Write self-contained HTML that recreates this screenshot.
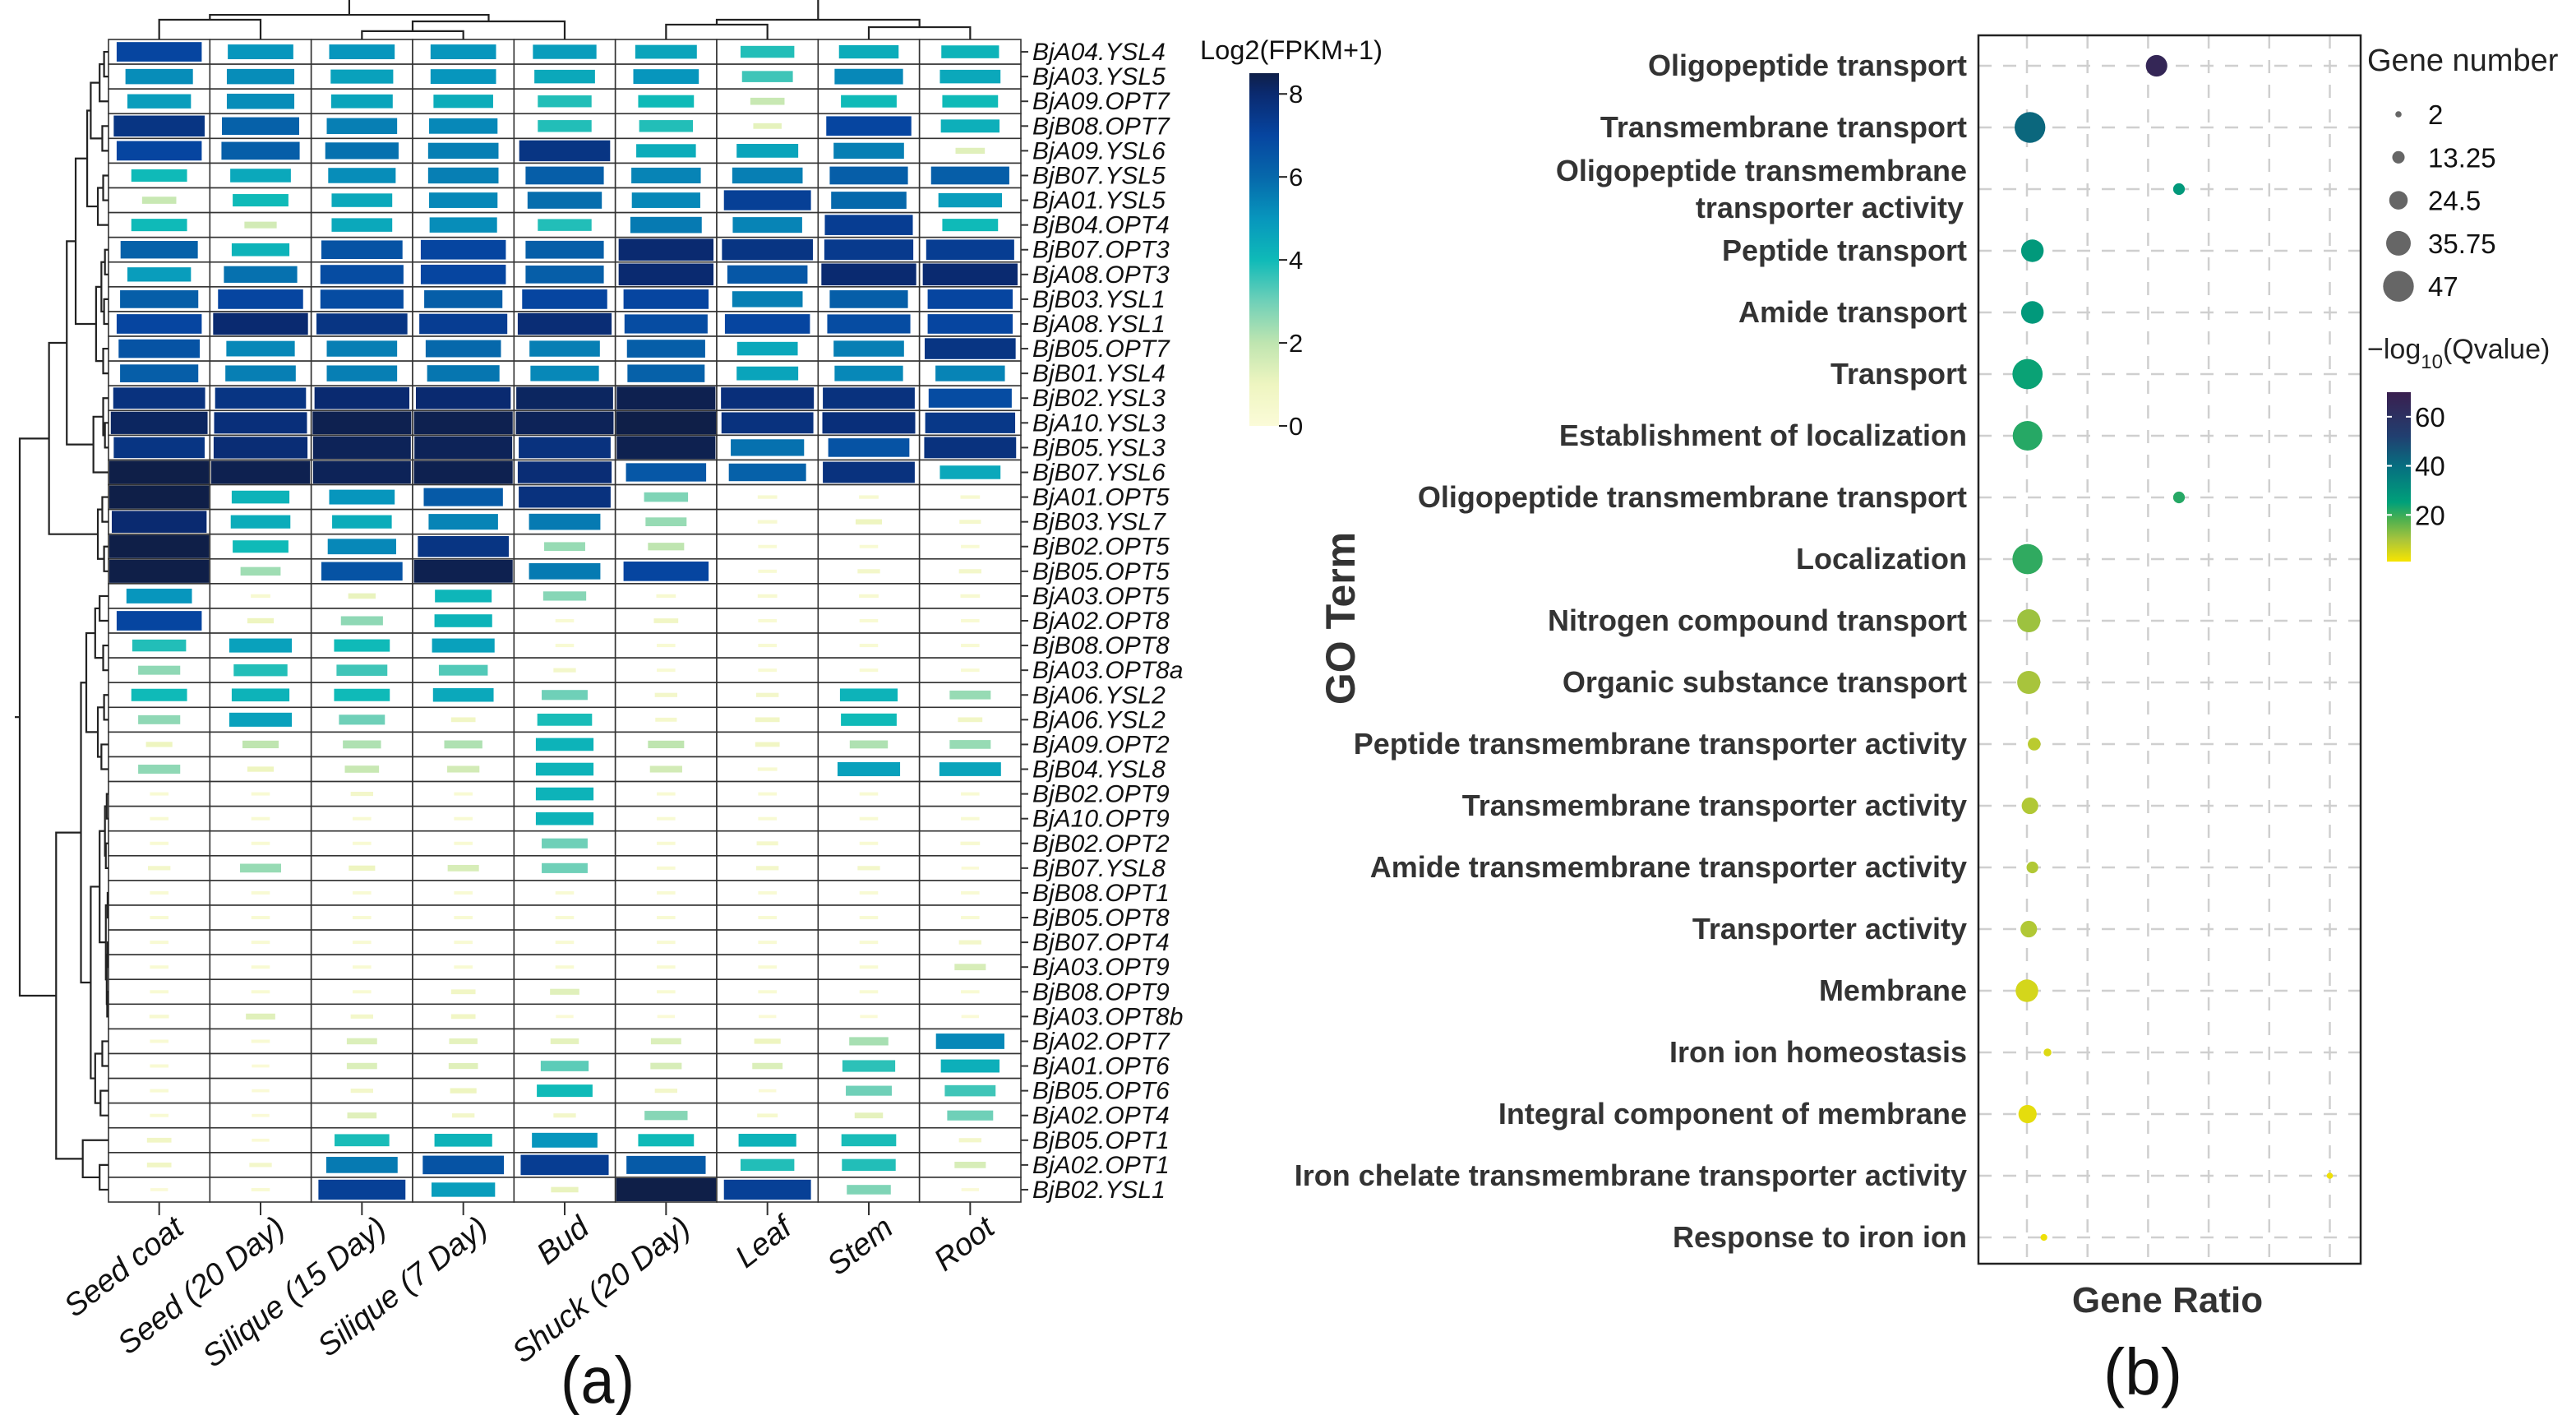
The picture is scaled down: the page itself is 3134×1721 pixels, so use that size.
<!DOCTYPE html>
<html><head><meta charset="utf-8"><title>Heatmap and GO enrichment</title>
<style>
html,body{margin:0;padding:0;background:#fff;}
svg{display:block;font-family:"Liberation Sans",Arial,sans-serif;}
</style></head>
<body>
<svg id="fig" width="3134" height="1721" viewBox="0 0 3134 1721" xmlns="http://www.w3.org/2000/svg">
<defs>
<linearGradient id="hmGrad" x1="0" y1="1" x2="0" y2="0">
<stop offset="0" stop-color="#fbfbd8"/><stop offset="0.118" stop-color="#eef5c0"/><stop offset="0.235" stop-color="#bfe5b0"/><stop offset="0.353" stop-color="#6fd0b8"/><stop offset="0.47" stop-color="#0fbab8"/><stop offset="0.588" stop-color="#0796bd"/><stop offset="0.706" stop-color="#0668ab"/><stop offset="0.824" stop-color="#0645a0"/><stop offset="0.941" stop-color="#0a2a70"/><stop offset="1" stop-color="#0f1f48"/>
</linearGradient>
<linearGradient id="qGrad" x1="0" y1="1" x2="0" y2="0">
<stop offset="0" stop-color="#f7e400"/><stop offset="0.13" stop-color="#a8c43c"/><stop offset="0.25" stop-color="#4cb050"/><stop offset="0.35" stop-color="#00a07a"/><stop offset="0.56" stop-color="#066f80"/><stop offset="0.74" stop-color="#213f70"/><stop offset="1" stop-color="#3a1f4f"/>
</linearGradient>
</defs>
<g id="heat"></g>
<g id="bubble"></g>
</svg>
<script>
const genes = ["BjA04.YSL4","BjA03.YSL5","BjA09.OPT7","BjB08.OPT7","BjA09.YSL6","BjB07.YSL5","BjA01.YSL5","BjB04.OPT4","BjB07.OPT3","BjA08.OPT3","BjB03.YSL1","BjA08.YSL1","BjB05.OPT7","BjB01.YSL4","BjB02.YSL3","BjA10.YSL3","BjB05.YSL3","BjB07.YSL6","BjA01.OPT5","BjB03.YSL7","BjB02.OPT5","BjB05.OPT5","BjA03.OPT5","BjA02.OPT8","BjB08.OPT8","BjA03.OPT8a","BjA06.YSL2","BjA06.YSL2","BjA09.OPT2","BjB04.YSL8","BjB02.OPT9","BjA10.OPT9","BjB02.OPT2","BjB07.YSL8","BjB08.OPT1","BjB05.OPT8","BjB07.OPT4","BjA03.OPT9","BjB08.OPT9","BjA03.OPT8b","BjA02.OPT7","BjA01.OPT6","BjB05.OPT6","BjA02.OPT4","BjB05.OPT1","BjA02.OPT1","BjB02.YSL1"];
const tissues = ["Seed coat","Seed (20 Day)","Silique (15 Day)","Silique (7 Day)","Bud","Shuck (20 Day)","Leaf","Stem","Root"];
const expr = [
[7,5,5,5,4.8,4.6,3.8,4.4,4.2],[5.2,5.2,4.7,5,4.5,5,3.5,5.3,4.5],[4.8,5.2,4.6,4.4,3.8,4,1.8,4,4],[7.6,6.2,5.5,5.3,3.8,3.8,1.2,7,4.3],
[7,6.3,5.8,5.5,7.6,4.4,4.6,5.5,1.3],[4,4.5,5.2,5.5,6.3,5.4,5.5,6.3,6.3],[1.8,4,4.5,5.3,5.9,5.3,7.2,6,4.8],[4,1.6,4.5,5.2,3.8,5.6,5.4,7.3,4],
[6.2,4.2,6.6,7,6.3,8,7.6,7.4,7.3],[4.8,5.8,6.8,7,6.3,8,6.5,8,8],[6.3,7,6.8,6.3,7,7,5.5,6.3,7],[7,8,7.6,7.3,7.9,6.8,7,6.8,7],
[6.6,5.3,5.5,6,5.5,6.3,4.5,5.5,7.6],[6.3,5.5,5.5,5.7,5.3,6.2,4.6,5.3,5.4],[7.7,7.6,8,8,8.2,8.4,7.8,7.7,6.8],[8.2,7.8,8.4,8.4,8.3,8.5,7.7,7.8,7.5],
[7.6,7.9,8.3,8.3,7.7,8.4,5.8,6.6,7.7],[8.5,8.4,8.3,8.4,7.9,6.5,6.2,7.7,4.5],[8.5,4.2,5,6.4,7.7,2.8,0.3,0.3,0.3],[8,4.4,4.4,5.4,5.6,2.5,0.3,1,0.5],
[8.5,4,5.3,7.6,2.5,2,0.2,0.2,0.2],[8.5,2.4,6.6,8.4,5.6,7,0.2,0.6,0.6],[5,0.3,1.1,4.1,2.7,0.3,0.3,0.3,0.3],[7,1,2.6,4.2,0.2,0.8,0.2,0.2,0.2],
[3.8,4.7,4,4.7,0.2,0.2,0.2,0.2,0.2],[2.6,3.8,3.5,3.3,0.6,0.2,0.2,0.2,0.2],[4,4.2,4,4.5,3,0.6,0.6,4.2,2.5],[2.6,4.7,3,0.8,3.9,0.5,0.8,4,0.8],
[1,2,2.2,2.2,4.2,2,0.8,2.2,2.5],[2.6,1,1.8,1.6,4.2,1.6,0.3,4.7,4.6],[0.2,0.2,0.6,0.2,4.2,0.2,0.2,0.2,0.2],[0.2,0.2,0.2,0.2,4.2,0.2,0.2,0.2,0.2],
[0.2,0.2,0.2,0.2,3,0.2,0.5,0.2,0.3],[0.6,2.5,1,1.5,3,0.2,0.6,0.6,0.1],[0.2,0.2,0.2,0.2,0.2,0.2,0.2,0.2,0.2],[0.2,0.2,0.2,0.2,0.2,0.2,0.2,0.2,0.2],
[0.2,0.2,0.2,0.2,0.2,0.2,0.2,0.2,0.6],[0.2,0.2,0.2,0.2,0.2,0.2,0.2,0.2,1.5],[0.2,0.2,0.2,0.8,1.3,0.2,0.2,0.2,0.2],[0.3,1.3,0.6,0.8,0.1,0.1,0.1,0.1,0.1],
[0.2,0.2,1.4,1.2,1.2,1.4,1,2.3,5.3],[0.2,0.1,1.4,1.3,3.2,1.5,1.4,3.7,4.3],[0.2,0.1,0.6,1,4,0.6,0.1,3,3.5],[0.2,0.1,1.3,0.6,0.6,2.7,0.4,1.2,3],
[0.8,0.1,3.9,4.2,5,4,4.2,3.9,0.6],[0.8,0.6,5.6,6.6,7.3,6.4,3.8,3.8,1.5],[0.1,0.2,7.2,4.8,1.1,8.6,7.2,2.8,0.1]];
const rowTree = [1.0,
 [0.67,
   [0.47,
     [0.37,
       [0.24,[0.2,[0.1,[0.05,0,1],2],[0.07,3,4]],[0.12,[0.06,5,6],7]],
       [0.14,[0.08,[0.04,8,9],[0.05,10,11]],[0.06,12,13]]],
     [0.17,[0.06,14,[0.04,15,16]],17]],
   [0.12,[0.07,18,19],[0.05,20,21]]],
 [0.59,
   [0.31,
     [0.25,[0.15,[0.1,22,23],[0.06,24,25]],[0.12,[0.05,26,27],[0.08,28,29]]],
     [0.2,[0.1,[0.04,[0.02,30,31],[0.03,32,33]],[0.03,[0.01,34,35],[0.02,[0.01,36,37],[0.015,38,39]]]],[0.15,[0.07,40,41],[0.09,42,43]]]],
   [0.29,44,[0.1,45,46]]]];
const colTree = [1.15,[0.68,[0.545,0,1],[0.5,[0.23,2,3],4]],[0.545,[0.41,5,6],[0.34,7,8]]];
const hmTicks = [0,2,4,6,8];

const goTerms = ["Oligopeptide transport","Transmembrane transport","Oligopeptide transmembrane|transporter activity","Peptide transport","Amide transport","Transport","Establishment of localization","Oligopeptide transmembrane transport","Localization","Nitrogen compound transport","Organic substance transport","Peptide transmembrane transporter activity","Transmembrane transporter activity","Amide transmembrane transporter activity","Transporter activity","Membrane","Iron ion homeostasis","Integral component of membrane","Iron chelate transmembrane transporter activity","Response to iron ion"];
const geneRatio = [0.314,0.105,0.351,0.109,0.109,0.101,0.101,0.351,0.101,0.103,0.103,0.112,0.105,0.109,0.103,0.1,0.134,0.101,0.6,0.128];
const geneCount = [30,47,12,32,32,46,45,12,46,33,33,14,21,12,21,32,5,24,2,3];
const qValue = [66,42,28,28,28,25,22,22,21,11,10,8,9,9,9,5,4,3,2,2];
const sizeLegend = [2,13.25,24.5,35.75,47];
const qTicks = [20,40,60];
const ratioGrid = [0.1,0.2,0.3,0.4,0.5,0.6];

const NS = "http://www.w3.org/2000/svg";
function mk(tag, attrs, parent){const e=document.createElementNS(NS,tag);for(const k in attrs)e.setAttribute(k,attrs[k]);parent.appendChild(e);return e;}

/* ---------- heatmap ---------- */
const H = document.getElementById('heat');
const gx0=132, gx1=1242, gy0=48, gy1=1462;
const cw=(gx1-gx0)/tissues.length, ch=(gy1-gy0)/genes.length;
const xCol=i=>gx0+cw*(i+0.5), yRow=i=>gy0+ch*(i+0.5);
const hmStops=[[0,"#fbfbd8"],[1,"#eef5c0"],[2,"#bfe5b0"],[3,"#6fd0b8"],[4,"#0fbab8"],[5,"#0796bd"],[6,"#0668ab"],[7,"#0645a0"],[8,"#0a2a70"],[8.5,"#0f1f48"]];
function hex(h){return [1,3,5].map(i=>parseInt(h.substr(i,2),16));}
function interp(stops,v){v=Math.max(stops[0][0],Math.min(stops[stops.length-1][0],v));for(let i=0;i<stops.length-1;i++){const[a,ca]=stops[i],[b,cb]=stops[i+1];if(v<=b){const t=(v-a)/(b-a),A=hex(ca),B=hex(cb);return "rgb("+A.map((x,j)=>Math.round(x+(B[j]-x)*t)).join(",")+")";}}return stops[stops.length-1][1];}
const vmax=8.5;
for(let r=0;r<genes.length;r++){
  for(let c=0;c<tissues.length;c++){
    const cell=mk('rect',{x:gx0+cw*c,y:gy0+ch*r,width:cw,height:ch,fill:'#fff',stroke:'#333','stroke-width':1.6},H);
    
    
    const v=expr[r][c];
    const f=0.18+0.82*Math.min(v,vmax)/vmax;
    const w=cw*f-2, h=ch*f-2;
    const m=mk('rect',{x:xCol(c)-w/2,y:yRow(r)-h/2,width:w,height:h,fill:interp(hmStops,v)},H);
    
    
  }
  mk('line',{x1:gx1,x2:gx1+9,y1:yRow(r),y2:yRow(r),stroke:'#333','stroke-width':2},H);
  const t=mk('text',{x:gx1+14,y:yRow(r)+10,'font-size':30,'font-style':'italic',fill:'#111'},H);
  t.textContent=genes[r];
  
  
}
for(let c=0;c<tissues.length;c++){
  mk('line',{x1:xCol(c),x2:xCol(c),y1:gy1,y2:gy1+16,stroke:'#333','stroke-width':2},H);
  const ax=xCol(c)+32, ay=gy1+36;
  const t=mk('text',{x:ax,y:ay,'font-size':38,'font-style':'italic','text-anchor':'end',fill:'#111',transform:`rotate(-38 ${ax} ${ay})`},H);
  t.textContent=tissues[c];
  
  
}
/* dendrograms */
function drawRowTree(node){
  if(typeof node==='number') return {y:yRow(node),x:gx0};
  const a=drawRowTree(node[1]), b=drawRowTree(node[2]);
  const x=gx0-node[0]*108;
  mk('path',{d:`M${a.x},${a.y}H${x}V${b.y}H${b.x}`,fill:'none',stroke:'#222','stroke-width':2.2},H);
  return {y:(a.y+b.y)/2,x:x};
}
const rt=drawRowTree(rowTree);
mk('line',{x1:rt.x,x2:rt.x-6,y1:rt.y,y2:rt.y,stroke:'#222','stroke-width':2.2},H);
function drawColTree(node){
  if(typeof node==='number') return {x:xCol(node),y:gy0};
  const a=drawColTree(node[1]), b=drawColTree(node[2]);
  const y=gy0-node[0]*44;
  mk('path',{d:`M${a.x},${a.y}V${y}H${b.x}V${b.y}`,fill:'none',stroke:'#222','stroke-width':2.2},H);
  return {x:(a.x+b.x)/2,y:y};
}
drawColTree(colTree);
/* colorbar */
const cbx=1520, cby0=89, cby1=518;
const cbScale=v=>cby1-(cby1-cby0)*v/vmax;
const cb=mk('rect',{x:cbx,y:cby0,width:36,height:cby1-cby0,fill:'url(#hmGrad)'},H);


hmTicks.forEach(v=>{
  mk('line',{x1:cbx+36,x2:cbx+46,y1:cbScale(v),y2:cbScale(v),stroke:'#222','stroke-width':2},H);
  const t=mk('text',{x:cbx+48,y:cbScale(v)+11,'font-size':31,fill:'#111'},H);
  t.textContent=v;
  
  
});
{const t=mk('text',{x:1460,y:72,'font-size':32,fill:'#111',textLength:222,lengthAdjust:'spacingAndGlyphs'},H);t.textContent='Log2(FPKM+1)';

}
{const t=mk('text',{x:727,y:1706,'font-size':80,'text-anchor':'middle',fill:'#111',textLength:90,lengthAdjust:'spacingAndGlyphs'},H);t.textContent='(a)';

}

/* ---------- bubble chart ---------- */
const B=document.getElementById('bubble');
const bx0=2407,bx1=2872,by0=43,by1=1537;
const xR=v=>2466+(v-0.1)*737;
const yT=i=>80+75*i;
const rSize=n=>3.8+(n-2)*0.331;
const qStops=[[1,"#f7e400"],[10,"#a8c43c"],[18,"#4cb050"],[26,"#00a07a"],[40,"#066f80"],[52,"#213f70"],[70,"#3a1f4f"]];
mk('rect',{x:bx0,y:by0,width:bx1-bx0,height:by1-by0,fill:'#fff'},B);
ratioGrid.forEach(v=>{const l=mk('line',{x1:xR(v),x2:xR(v),y1:by0,y2:by1,stroke:'#cfcfcf','stroke-width':2.5,'stroke-dasharray':'16 14'},B);

});
goTerms.forEach((g,i)=>{
  const l=mk('line',{x1:bx0,x2:bx1,y1:yT(i),y2:yT(i),stroke:'#cfcfcf','stroke-width':2.5,'stroke-dasharray':'16 14'},B);
  
  
  const parts=g.split('|');
  parts.forEach((p,k)=>{
    const yy=parts.length>1?yT(i)-22+k*45+12:yT(i)+12;
    const t=mk('text',{x:2393-(k*4),y:yy,'font-size':36,'font-weight':'bold','text-anchor':'end',fill:'#333'},B);
    t.textContent=p;
    
    
  });
});
goTerms.forEach((g,i)=>{
  const c=mk('circle',{cx:xR(geneRatio[i]),cy:yT(i),r:rSize(geneCount[i]),fill:interp(qStops,qValue[i])},B);
  
  
});
mk('rect',{x:bx0,y:by0,width:bx1-bx0,height:by1-by0,fill:'none',stroke:'#222','stroke-width':2.5},B);
{const t=mk('text',{x:2637,y:1596,'font-size':44,'font-weight':'bold','text-anchor':'middle',fill:'#333'},B);t.textContent='Gene Ratio';

}
{const t=mk('text',{x:0,y:0,'font-size':50,'font-weight':'bold','text-anchor':'middle',fill:'#333',transform:'translate(1648 752) rotate(-90)'},B);t.textContent='GO Term';

}
{const t=mk('text',{x:2607,y:1696,'font-size':80,'text-anchor':'middle',fill:'#111',textLength:96,lengthAdjust:'spacingAndGlyphs'},B);t.textContent='(b)';

}
/* size legend */
{const t=mk('text',{x:2880,y:86,'font-size':38,fill:'#222'},B);t.textContent='Gene number';

}
sizeLegend.forEach((n,k)=>{
  const yy=139+52.3*k;
  const c=mk('circle',{cx:2918,cy:yy,r:rSize(n),fill:'#666'},B);
  
  
  const t=mk('text',{x:2954,y:yy+12,'font-size':33,fill:'#111'},B);t.textContent=n;
  
  
});
{const t=mk('text',{x:2880,y:436,'font-size':34,fill:'#222'},B);
 t.innerHTML='−log<tspan font-size="24" dy="12">10</tspan><tspan dy="-12">(Qvalue)</tspan>';
 
 }
const qy=v=>683-(v-1)*(683-477)/69;
{const r=mk('rect',{x:2904,y:477,width:29,height:206,fill:'url(#qGrad)'},B);

}
qTicks.forEach(v=>{
  mk('line',{x1:2904,x2:2910,y1:qy(v),y2:qy(v),stroke:'#fff','stroke-width':2},B);
  mk('line',{x1:2927,x2:2933,y1:qy(v),y2:qy(v),stroke:'#fff','stroke-width':2},B);
  const t=mk('text',{x:2938,y:qy(v)+12,'font-size':33,fill:'#111'},B);t.textContent=v;
  
  
});
</script>
</body></html>
